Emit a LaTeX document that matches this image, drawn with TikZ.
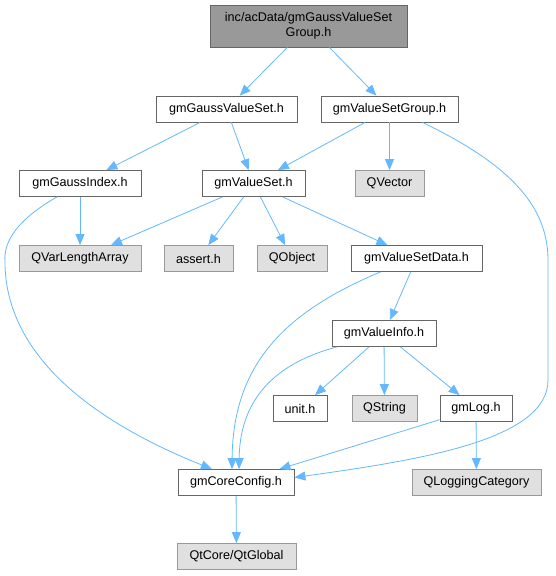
\documentclass[tikz,border=0pt]{standalone}
\usepackage{fontspec}
\setmainfont{Liberation Sans}
\usetikzlibrary{arrows.meta}
\definecolor{edgeblue}{HTML}{63B8FF}
\definecolor{boxgray}{HTML}{666666}
\definecolor{sysgray}{HTML}{999999}
\definecolor{sysfill}{HTML}{E0E0E0}

\begin{document}
\begin{tikzpicture}[x = 1pt, y = -1pt,
  file/.style = {draw = boxgray, fill = white, line width = .8pt, inner sep = 0,
    minimum height = 26pt, font = \fontsize{12.6}{15}\selectfont},
  sys/.style = {file, draw = sysgray, fill = sysfill},
  dep/.style = {draw = edgeblue, line width = .8pt,
    -{Triangle[length = 11pt, width = 9pt]}}]
  \useasboundingbox (0, 0) rectangle (556, 576);

  \node[file, fill = sysgray, minimum width = 197pt, minimum height = 42pt,
  align = center] (group) at (308.5, 26) {inc/acData/gmGaussValueSet\\Group.h};

  \node[file, minimum width = 141pt] (gaussvalueset) at (226.5, 109) {gmGaussValueSet.h};
  \node[file, minimum width = 137pt] (valuesetgroup) at (389.5, 109) {gmValueSetGroup.h};

  \node[file, minimum width = 122pt] (gaussindex) at (80, 183.5) {gmGaussIndex.h};
  \node[file, minimum width = 103pt] (valueset) at (253.5, 183.5) {gmValueSet.h};
  \node[sys, minimum width = 69pt] (qvector) at (389.5, 183.5) {QVector};

  \node[sys, minimum width = 122pt] (qvarlengtharray) at (80, 258.5) {QVarLengthArray};
  \node[sys, minimum width = 69pt] (assert) at (198.5, 258.5) {assert.h};
  \node[sys, minimum width = 70pt] (qobject) at (292, 258.5) {QObject};
  \node[file, minimum width = 131pt] (valuesetdata) at (416.5, 258.5) {gmValueSetData.h};

  \node[file, minimum width = 104pt] (valueinfo) at (384, 333.5) {gmValueInfo.h};

  \node[file, minimum width = 54pt] (unit) at (300, 408.5) {unit.h};
  \node[sys, minimum width = 65pt] (qstring) at (384.5, 408.5) {QString};
  \node[file, minimum width = 72pt] (gmlog) at (476, 408.5) {gmLog.h};

  \node[file, minimum width = 116pt] (coreconfig) at (236, 482.5) {gmCoreConfig.h};
  \node[sys, minimum width = 129pt] (qloggingcategory) at (476.5, 482.5) {QLoggingCategory};

  \node[sys, minimum width = 119pt] (qtglobal) at (236.5, 556.5) {QtCore/QtGlobal};

  % straight includes
  \draw[dep] (group) -- (gaussvalueset);
  \draw[dep] (group) -- (valuesetgroup);
  \draw[dep] (gaussvalueset) -- (gaussindex);
  \draw[dep] (gaussvalueset) -- (valueset);
  \draw[dep] (valuesetgroup) -- (valueset);
  \draw[dep] (valuesetgroup) -- (qvector);
  \draw[dep] (gaussindex) -- (qvarlengtharray);
  \draw[dep] (valueset) -- (qvarlengtharray);
  \draw[dep] (valueset) -- (assert);
  \draw[dep] (valueset) -- (qobject);
  \draw[dep] (valueset) -- (valuesetdata);
  \draw[dep] (valuesetdata) -- (valueinfo);
  \draw[dep] (valueinfo) -- (unit);
  \draw[dep] (valueinfo) -- (qstring);
  \draw[dep] (valueinfo) -- (gmlog);
  \draw[dep] (gmlog) -- (coreconfig);
  \draw[dep] (gmlog) -- (qloggingcategory);
  \draw[dep] (coreconfig) -- (qtglobal);

  % curved includes of gmCoreConfig.h
  \draw[dep] ([xshift = -23pt]gaussindex.south) .. controls (20, 218) and (3, 240) ..
  (5, 262) .. controls (5, 320) and (40, 400) .. ([xshift = -24pt]coreconfig.north);
  \draw[dep] ([xshift = -36pt]valuesetdata.south) .. controls (290, 310) and (233, 360) ..
  ([xshift = -4pt]coreconfig.north);
  \draw[dep] ([xshift = -47pt]valueinfo.south) .. controls (280, 362) and (240, 395) ..
  ([xshift = 3pt]coreconfig.north);
  \draw[dep] ([xshift = 33pt]valuesetgroup.south) .. controls (500, 160) and (548, 200) ..
  (548, 260) -- (548, 380) .. controls (548, 440) and (420, 460) ..
  ([yshift = 5pt]coreconfig.east);
\end{tikzpicture}
\end{document}
